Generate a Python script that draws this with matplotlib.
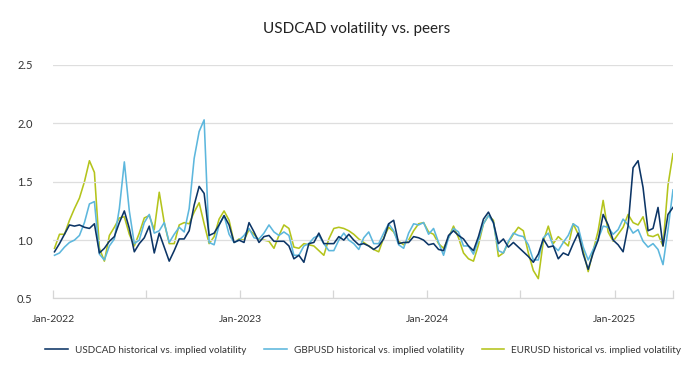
import matplotlib
matplotlib.use("Agg")
import matplotlib.pyplot as plt
import matplotlib.dates as mdates
from matplotlib import font_manager
import pandas as pd

# Werte (ca. alle 10 Tage)
start_date = "2022-01-03"
end_date = "2025-04-25"

usdcad = [
    0.90, 0.97, 1.05, 1.13, 1.12, 1.13, 1.11, 1.10, 1.14, 0.89, 0.93, 0.99, 1.03, 1.15, 1.25, 1.10, 0.90, 0.97, 1.02, 1.12, 0.89, 1.06, 0.94, 0.82, 0.91,
    1.01, 1.01, 1.08, 1.30, 1.46, 1.40, 1.04, 1.06, 1.13, 1.21, 1.13, 0.98, 1.00, 0.98, 1.15, 1.07, 0.98, 1.03, 1.04, 0.99, 0.99, 0.99, 0.95, 0.84, 0.87,
    0.81, 0.97, 0.98, 1.06, 0.97, 0.97, 0.97, 1.03, 1.00, 1.05, 1.00, 0.96, 0.97, 0.95, 0.92, 0.95, 1.01, 1.14, 1.17, 0.97, 0.98, 0.98, 1.03, 1.02, 1.00,
    0.96, 0.97, 0.92, 0.91, 1.04, 1.08, 1.04, 1.01, 0.95, 0.91, 1.03, 1.18, 1.24, 1.15, 0.97, 1.01, 0.94, 0.98, 0.94, 0.90, 0.86, 0.81, 0.88, 1.01, 0.94,
    0.95, 0.84, 0.89, 0.87, 0.97, 1.06, 0.88, 0.75, 0.89, 1.00, 1.22, 1.13, 1.00, 0.96, 0.90, 1.12, 1.62, 1.68, 1.45, 1.08, 1.10, 1.28, 0.95, 1.22, 1.28,
]
gbpusd = [
    0.87, 0.89, 0.94, 0.98, 1.00, 1.04, 1.15, 1.31, 1.33, 0.88, 0.83, 0.95, 1.01, 1.27, 1.67, 1.25, 0.97, 1.00, 1.15, 1.22, 1.06, 1.08, 1.15, 0.98, 1.05,
    1.11, 1.07, 1.27, 1.70, 1.93, 2.03, 0.98, 0.96, 1.13, 1.21, 1.05, 0.98, 1.00, 1.04, 1.10, 1.02, 1.01, 1.06, 1.13, 1.07, 1.04, 1.07, 1.04, 0.87, 0.87,
    0.95, 0.97, 1.02, 1.04, 0.97, 0.91, 0.91, 1.00, 1.06, 1.00, 0.97, 0.92, 1.02, 1.07, 0.97, 0.97, 1.06, 1.14, 1.08, 0.96, 0.93, 1.06, 1.14, 1.13, 1.15,
    1.05, 1.10, 0.98, 0.87, 1.02, 1.10, 1.07, 0.95, 0.95, 0.88, 1.00, 1.14, 1.21, 1.15, 0.91, 0.89, 0.99, 1.06, 1.04, 1.03, 0.96, 0.83, 0.83, 1.02, 1.06,
    0.95, 0.91, 0.98, 1.04, 1.14, 1.11, 0.94, 0.83, 0.92, 1.01, 1.12, 1.11, 1.05, 1.09, 1.18, 1.13, 1.06, 1.09, 0.99, 0.94, 0.97, 0.92, 0.79, 1.09, 1.43,
]
eurusd = [
    0.93, 1.05, 1.05, 1.17, 1.27, 1.36, 1.50, 1.68, 1.58, 0.93, 0.82, 1.04, 1.11, 1.19, 1.20, 1.05, 0.95, 1.06, 1.19, 1.21, 1.09, 1.41, 1.15, 0.97, 0.97,
    1.13, 1.15, 1.14, 1.24, 1.32, 1.14, 0.97, 1.03, 1.18, 1.25, 1.17, 0.98, 1.01, 1.00, 1.09, 1.05, 1.00, 1.00, 0.99, 0.93, 1.04, 1.13, 1.10, 0.94, 0.93,
    0.97, 0.96, 0.95, 0.91, 0.87, 1.01, 1.10, 1.11, 1.10, 1.08, 1.05, 1.01, 0.98, 0.95, 0.92, 0.90, 1.02, 1.11, 1.07, 0.99, 0.96, 1.00, 1.08, 1.14, 1.15,
    1.07, 1.05, 0.97, 0.93, 1.02, 1.12, 1.02, 0.89, 0.84, 0.82, 0.96, 1.14, 1.21, 1.17, 0.86, 0.89, 0.98, 1.05, 1.11, 1.08, 0.89, 0.74, 0.67, 0.99, 1.12,
    0.97, 1.03, 0.99, 0.95, 1.14, 1.05, 0.91, 0.73, 0.91, 1.08, 1.34, 1.07, 0.99, 1.05, 1.11, 1.22, 1.15, 1.13, 1.20, 1.04, 1.03, 1.05, 0.95, 1.47, 1.74,
]

labels = [
    "USDCAD historical vs. implied volatility",
    "GBPUSD historical vs. implied volatility",
    "EURUSD historical vs. implied volatility",
]
colors = ["#0c3566", "#5db7dd", "#b4c41c"]

year_ticks = ["2022-01-01", "2023-01-01", "2024-01-01", "2025-01-01"]
half_ticks = ["2022-07-01", "2023-07-01", "2024-07-01", end_date]

# Schmale Schrift, falls vorhanden
names = {f.name for f in font_manager.fontManager.ttflist}
font = "Liberation Sans Narrow" if "Liberation Sans Narrow" in names else "Lato"
plt.rcParams["font.family"] = [font, "DejaVu Sans"]

dates = pd.date_range(start_date, end_date, periods=len(usdcad))

fig = plt.figure(figsize=(7, 3.72), dpi=100)
ax = fig.add_axes([0.0764, 0.1976, 0.885, 0.6277])

series = [usdcad, gbpusd, eurusd]
for values, color, label, z in zip(series, colors, labels, [3, 2, 1]):
    ax.plot(dates, values, color=color, lw=1.15, label=label, zorder=z)

ax.set_ylim(0.5, 2.5)
ax.set_yticks([0.5, 1.0, 1.5, 2.0, 2.5])
ax.set_xlim(pd.Timestamp("2022-01-01"), pd.Timestamp(end_date))
ax.set_xticks(pd.to_datetime(year_ticks))
ax.set_xticks(pd.to_datetime(half_ticks), minor=True)
ax.xaxis.set_major_formatter(mdates.DateFormatter("%b-%Y"))

ax.grid(True, axis="y", color="#dedede", lw=0.9, zorder=0)
for side in ["top", "right", "left"]:
    ax.spines[side].set_visible(False)
ax.spines["bottom"].set_color("#d6d6d6")
ax.spines["bottom"].set_linewidth(0.9)

ax.tick_params(axis="y", length=0, pad=15, labelsize=8, labelcolor="#333333")
ax.tick_params(axis="x", which="both", direction="in", length=6, width=0.9,
               color="#d6d6d6", pad=12, labelsize=7.5, labelcolor="#333333")

fig.text(0.509, 0.922, "USDCAD volatility vs. peers", ha="center", va="center",
         fontsize=11, color="#222222")

fig.legend(loc="center", bbox_to_anchor=(0.519, 0.058), ncol=3, frameon=False,
           fontsize=7.1, handlelength=2.3, columnspacing=1.8, handletextpad=0.7,
           labelcolor="#333333")

fig.savefig("out.png", dpi=100)
plt.close(fig)
